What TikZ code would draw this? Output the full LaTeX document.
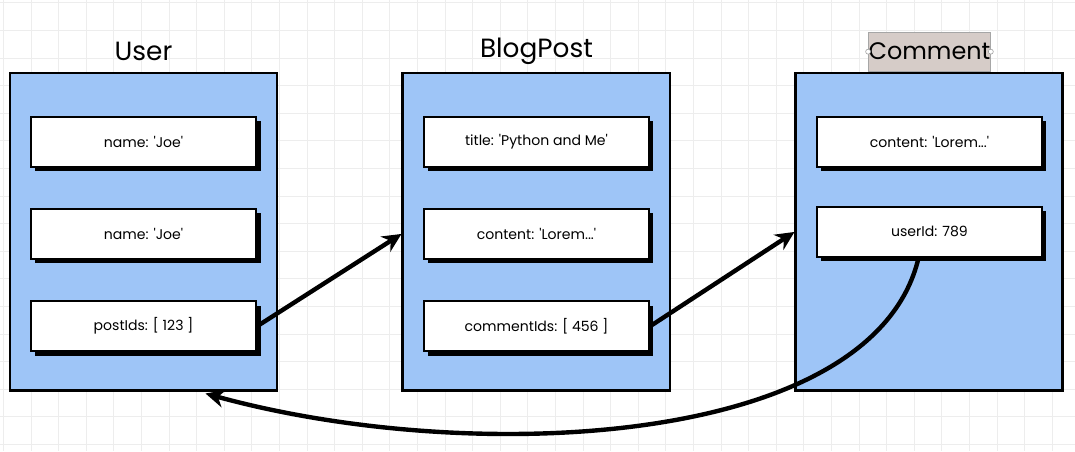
\documentclass[tikz,border=0pt]{standalone}
\usepackage{fontspec}
\setmainfont{Poppins}
\usepackage{tikz}
\usetikzlibrary{arrows.meta, positioning, shadows}

\definecolor{clsblue}{RGB}{158,197,247}
\definecolor{selbox}{RGB}{214,204,200}
\newcommand{\sq}{\textquotesingle}

\begin{document}
\begin{tikzpicture}[
  node distance=8mm and 25mm,
  every node/.style={font=\footnotesize},
  % Styles
  cls/.style={rectangle, draw, fill=clsblue, minimum width=5.34cm, minimum height=6.34cm, line width=1.7pt},
  field/.style={rectangle, draw, fill=white, minimum width=4.5cm, minimum height=1.0cm, line width=1.3pt,
    drop shadow={shadow xshift=0.09cm, shadow yshift=-0.09cm, opacity=1, fill=black}},
  title/.style={minimum width=2.44cm, minimum height=0.78cm, inner sep=0pt, font=\fontsize{15}{17}\selectfont},
  picked/.style={fill=selbox, draw=black!35, line width=0.4pt, font=\fontsize{13.6}{16}\selectfont},
  handle/.style={fill=white, draw=black!40, line width=0.3pt},
  refarr/.style={-{Stealth[length=3.8mm, width=3.6mm]}, line width=2.5pt},
  gridline/.style={draw=black!7, line width=0.6pt},
]

  \useasboundingbox (0,0) rectangle (21.5,9.02);

  % ── BACKGROUND GRID ───────────────────────────────────────
  \foreach \x in {0.07,0.622,...,21.5} \draw[gridline] (\x,0) -- (\x,9.02);
  \foreach \y in {0.13,0.682,...,9.02} \draw[gridline] (0,\y) -- (21.5,\y);

  % ── CLASSES ───────────────────────────────────────────────
  \node[cls] (user) at (2.87,4.39) {};
  \node[cls, right=2.46cm of user] (blog) {};
  \node[cls, right=2.46cm of blog] (comment) {};

  % Titles
  \node[title, above=0pt of user] (usertitle) {User};
  \node[title, above=0pt of blog] (blogtitle) {BlogPost};
  \node[title, picked, above=0pt of comment] (commenttitle) {Comment};
  \draw[handle] (commenttitle.west) circle (0.05);
  \draw[handle] (commenttitle.east) circle (0.05);

  % ── FIELDS ────────────────────────────────────────────────
  % User
  \node[field, below=0.88cm of user.north] (uname) {name: \sq Joe\sq};
  \node[field, below=of uname] (uname2) {name: \sq Joe\sq};
  \node[field, below=of uname2] (uposts) {postIds: [ 123 ]};

  % BlogPost
  \node[field, below=0.88cm of blog.north] (btitle) {title: \sq Python and Me\sq};
  \node[field, below=of btitle] (bcontent) {content: \sq Lorem...\sq};
  \node[field, below=of bcontent] (bcomments) {commentIds: [ 456 ]};

  % Comment
  \node[field, below=0.88cm of comment.north] (ccontent) {content: \sq Lorem...\sq};
  \node[field, below=7.6mm of ccontent] (cuser) {userId: 789};

  % ── REFERENCES ────────────────────────────────────────────
  \draw[refarr] (uposts.east) -- (bcontent -| blog.west);
  \draw[refarr] (bcomments.east) -- (cuser -| comment.west);

  % userId back to User
  \draw[refarr] ([xshift=-0.22cm]cuser.south)
    .. controls +(-0.9,-3.8) and +(5.3,-1.46) .. ([xshift=1.24cm, yshift=-0.04cm]user.south);

\end{tikzpicture}
\end{document}
